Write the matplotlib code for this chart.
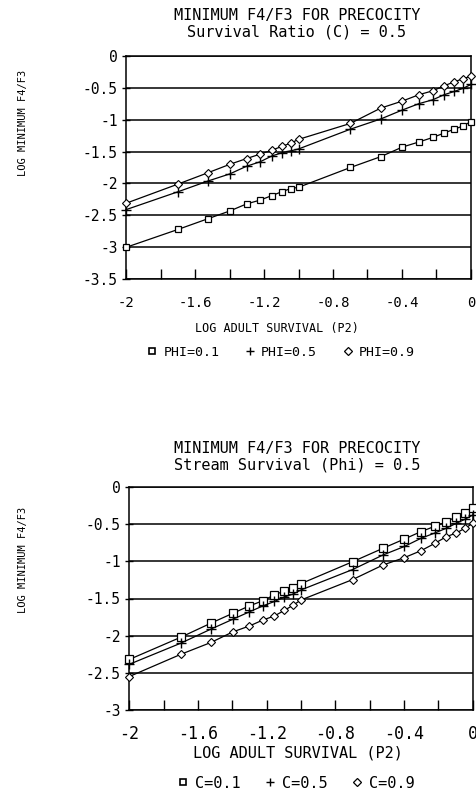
import matplotlib
matplotlib.use('Agg')
import matplotlib.pyplot as plt
from matplotlib.lines import Line2D

plt.rcParams['font.family'] = ['DejaVu Sans Mono', 'DejaVu Sans']
plt.rcParams['axes.unicode_minus'] = False

# ---------------- data ----------------
log_p2 = [-2.0, -1.699, -1.523, -1.398, -1.301, -1.222, -1.155, -1.097, -1.046, -1.0,
          -0.699, -0.523, -0.398, -0.301, -0.222, -0.155, -0.097, -0.046, 0.0]

# top panel: Survival Ratio (C) = 0.5
top_phi01 = [-3.00, -2.72, -2.55, -2.43, -2.32, -2.26, -2.19, -2.13, -2.08, -2.06,
             -1.75, -1.58, -1.43, -1.35, -1.28, -1.21, -1.15, -1.10, -1.03]
top_phi05 = [-2.41, -2.13, -1.96, -1.85, -1.73, -1.66, -1.57, -1.52, -1.49, -1.46,
             -1.15, -0.99, -0.85, -0.75, -0.69, -0.61, -0.56, -0.51, -0.45]
top_phi09 = [-2.31, -2.01, -1.83, -1.70, -1.61, -1.54, -1.48, -1.42, -1.37, -1.31,
             -1.06, -0.82, -0.71, -0.61, -0.55, -0.47, -0.41, -0.36, -0.32]

# bottom panel: Stream Survival (Phi) = 0.5
bot_c01 = [-2.32, -2.02, -1.83, -1.70, -1.60, -1.53, -1.45, -1.40, -1.355, -1.30,
           -1.005, -0.825, -0.70, -0.60, -0.53, -0.47, -0.40, -0.345, -0.28]
bot_c05 = [-2.385, -2.10, -1.91, -1.78, -1.68, -1.60, -1.54, -1.48, -1.44, -1.385,
           -1.11, -0.915, -0.80, -0.69, -0.62, -0.556, -0.49, -0.435, -0.377]
bot_c09 = [-2.55, -2.25, -2.09, -1.95, -1.87, -1.79, -1.735, -1.66, -1.59, -1.52,
           -1.245, -1.05, -0.95, -0.857, -0.76, -0.67, -0.62, -0.556, -0.49]

x_major = [-2, -1.6, -1.2, -0.8, -0.4, 0]
x_major_labels = ['-2', '-1.6', '-1.2', '-0.8', '-0.4', '0']
x_minor = [-1.8, -1.4, -1.0, -0.6, -0.2]

top_yticks = [0, -0.5, -1, -1.5, -2, -2.5, -3, -3.5]
top_ylabels = ['0', '-0.5', '-1', '-1.5', '-2', '-2.5', '-3', '-3.5']
bot_yticks = [0, -0.5, -1, -1.5, -2, -2.5, -3]
bot_ylabels = ['0', '-0.5', '-1', '-1.5', '-2', '-2.5', '-3']

top_title = 'MINIMUM F4/F3 FOR PRECOCITY\nSurvival Ratio (C) = 0.5'
bot_title = 'MINIMUM F4/F3 FOR PRECOCITY\nStream Survival (Phi) = 0.5'
xlab = 'LOG ADULT SURVIVAL (P2)'
ylab = 'LOG MINIMUM F4/F3'
top_names = ['PHI=0.1', 'PHI=0.5', 'PHI=0.9']
bot_names = ['C=0.1', 'C=0.5', 'C=0.9']

# ---------------- figure ----------------
W, H = 477, 799
fig = plt.figure(figsize=(W / 100, H / 100), dpi=100)


def fx(px):
    return px / W


def fy(py):
    return 1 - py / H


def panel(rect, ticks, tlabels, series, msz, xtick_fs, xpad):
    ax = fig.add_axes(rect)
    styles = [dict(marker='s', ms=msz[0], mfc='white', mec='black', mew=0.9),
              dict(marker='+', ms=msz[1], mec='black', mew=1.0),
              dict(marker='D', ms=msz[2], mfc='white', mec='black', mew=0.8)]
    for ys, st in zip(series, styles):
        ax.plot(log_p2, ys, color='black', lw=0.9, **st, clip_on=False, zorder=3)
    ax.set_xlim(-2, 0)
    ax.set_ylim(ticks[-1], 0)
    ax.set_xticks(x_major)
    ax.set_xticklabels(x_major_labels, fontsize=xtick_fs)
    ax.set_xticks(x_minor, minor=True)
    ax.set_yticks(ticks)
    ax.set_yticklabels(tlabels, fontsize=10.5)
    ax.tick_params(axis='x', which='both', direction='in', length=7, width=1.0,
                   pad=xpad, top=False)
    ax.tick_params(axis='y', direction='inout', length=6, width=1.0, pad=3)
    for y in ticks:
        ax.axhline(y, color='black', lw=1.1, zorder=1)
    for s in ax.spines.values():
        s.set_linewidth(1.1)
    return ax


# top panel
axt_rect = [fx(126), fy(279.3), fx(471) - fx(126), fy(55.7) - fy(279.3)]
axt = panel(axt_rect, top_yticks, top_ylabels,
            [top_phi01, top_phi05, top_phi09], (5.0, 6.5, 3.8), 10, 12)

# bottom panel
axb_rect = [fx(129.3), fy(710), fx(472.7) - fx(129.3), fy(487) - fy(710)]
axb = panel(axb_rect, bot_yticks, bot_ylabels,
            [bot_c01, bot_c05, bot_c09], (6.0, 7.0, 4.2), 12, 11)

# titles
fig.text(fx(297), fy(24), top_title, ha='center', va='center', fontsize=11,
         linespacing=1.15)
fig.text(fx(297), fy(456.5), bot_title, ha='center', va='center', fontsize=11,
         linespacing=1.15)

# x labels
fig.text(fx(277), fy(328), xlab, ha='center', va='center', fontsize=8.5)
fig.text(fx(298), fy(753), xlab, ha='center', va='center', fontsize=11)

# y labels
fig.text(fx(23), fy(123), ylab, ha='center', va='center', rotation=90, fontsize=7.5)
fig.text(fx(23), fy(560), ylab, ha='center', va='center', rotation=90, fontsize=7.5)


def make_handles(msz):
    return [Line2D([], [], ls='none', marker='s', ms=msz[0] * 0.8, mfc='white',
                   mec='black', mew=1.2),
            Line2D([], [], ls='none', marker='+', ms=msz[1] * 0.8, mec='black', mew=1.0),
            Line2D([], [], ls='none', marker='D', ms=msz[2] * 0.9, mfc='white',
                   mec='black', mew=0.9)]


fig.legend(make_handles((5.5, 7.0, 4.0)), top_names, loc='center',
           bbox_to_anchor=(fx(281), fy(352)), ncol=3, frameon=False,
           fontsize=9.5, handlelength=0.8, handletextpad=0.45, columnspacing=1.9,
           borderpad=0, borderaxespad=0)
fig.legend(make_handles((6.0, 7.0, 4.2)), bot_names, loc='center',
           bbox_to_anchor=(fx(296), fy(783)), ncol=3, frameon=False,
           fontsize=11, handlelength=0.8, handletextpad=0.4, columnspacing=1.5,
           borderpad=0, borderaxespad=0)

fig.savefig('out.png', dpi=100, facecolor='white')
